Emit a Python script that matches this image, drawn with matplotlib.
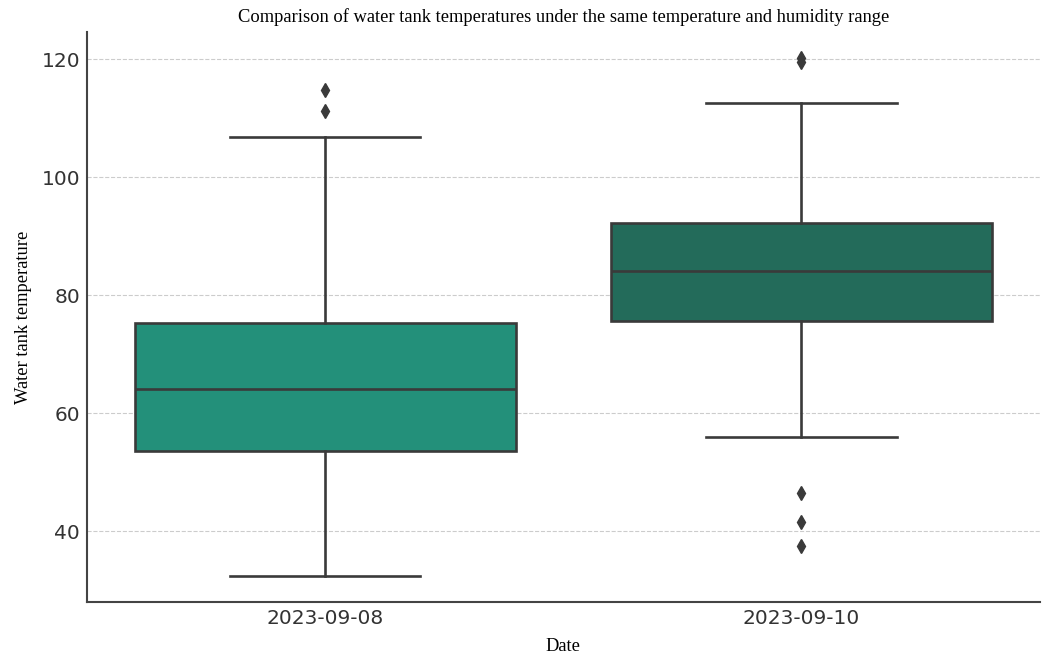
import numpy as np
import matplotlib.pyplot as plt

dates = ["2023-09-08", "2023-09-10"]
whislo = [32.4, 55.9]
q1 = [53.6, 75.6]
med = [64.1, 84.1]
q3 = [75.3, 92.2]
whishi = [106.8, 112.5]
fliers = [[114.7, 111.2], [120.2, 119.5, 46.4, 41.5, 37.5]]
colors = ["#23907a", "#236b5a"]

stats = []
for i in range(len(dates)):
    stats.append({"label": dates[i], "whislo": whislo[i], "q1": q1[i], "med": med[i],
                  "q3": q3[i], "whishi": whishi[i], "fliers": fliers[i]})

fig = plt.figure(figsize=(10.48, 6.55), dpi=100)
ax = fig.add_axes([0.083, 0.081, 0.909, 0.870])

edge = "#3a3a3a"
bp = ax.bxp(stats, positions=range(len(dates)), widths=0.8, patch_artist=True,
            boxprops=dict(edgecolor=edge, linewidth=1.9),
            medianprops=dict(color=edge, linewidth=1.9),
            whiskerprops=dict(color=edge, linewidth=1.9),
            capprops=dict(color=edge, linewidth=1.9),
            flierprops=dict(marker="d", markerfacecolor=edge, markeredgecolor=edge, markersize=7))
for patch, c in zip(bp["boxes"], colors):
    patch.set_facecolor(c)

ax.set_xlim(-0.5, 1.5)
ax.set_ylim(28.0, 124.6)
ax.set_yticks([40, 60, 80, 100, 120])
ax.yaxis.grid(True, linestyle="--", color="#cccccc", linewidth=0.8)
ax.set_axisbelow(True)
ax.spines["top"].set_visible(False)
ax.spines["right"].set_visible(False)
for s in ["left", "bottom"]:
    ax.spines[s].set_linewidth(1.5)
    ax.spines[s].set_color("#444444")
ax.tick_params(labelsize=14.5, colors="#333333", length=0, pad=5)

serif = ["Liberation Serif", "DejaVu Serif"]
ax.set_title("Comparison of water tank temperatures under the same temperature and humidity range",
             family=serif, fontsize=13.3, pad=7)
ax.set_xlabel("Date", family=serif, fontsize=13.3, labelpad=7)
ax.set_ylabel("Water tank temperature", family=serif, fontsize=13.3, labelpad=7)

fig.savefig("out.png")
